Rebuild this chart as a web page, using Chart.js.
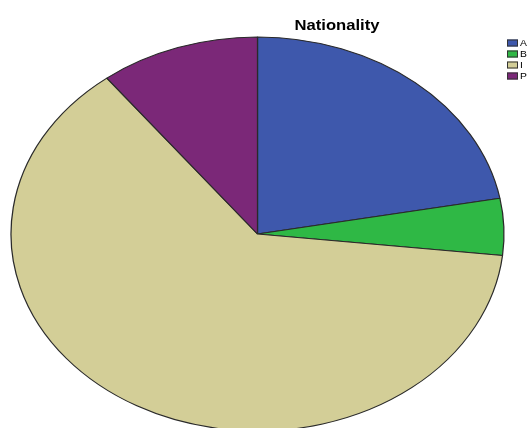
<!DOCTYPE html>
<html>
<head>
<meta charset="utf-8">
<script src="https://cdn.jsdelivr.net/npm/chart.js@4/dist/chart.umd.min.js"></script>
<style>
html,body{margin:0;padding:0;background:#fff;}
#wrap{width:530px;height:428px;position:relative;}
</style>
</head>
<body>
<div id="wrap"><canvas id="c" width="530" height="428"></canvas></div>
<script>
const categories = ['A', 'B', 'I', 'P'];
const counts = [19, 4, 54, 9];
const colors = ['#3e58ac', '#2fb845', '#d3ce97', '#7b2878'];
const chartTitle = 'Nationality';

// ellipse geometry (pie is stretched horizontally like the original)
const CX = 257.5, CY = 234, RX = 246.5, RY = 197;

const ellipsePlugin = {
  id: 'ellipse',
  beforeDatasetsDraw(chart) {
    const arc = chart.getDatasetMeta(0).data[0];
    const ctx = chart.ctx;
    ctx.save();
    ctx.translate(CX, CY);
    ctx.scale(RX / arc.outerRadius, RY / arc.outerRadius);
    ctx.translate(-arc.x, -arc.y);
  },
  afterDatasetsDraw(chart) {
    chart.ctx.restore();
  }
};

const textPlugin = {
  id: 'texts',
  afterDraw(chart) {
    const ctx = chart.ctx;
    ctx.save();
    // title
    ctx.font = 'bold 14px "Liberation Sans", Arial, sans-serif';
    ctx.fillStyle = '#000';
    ctx.textBaseline = 'middle';
    ctx.textAlign = 'center';
    const w = ctx.measureText(chartTitle).width;
    ctx.save();
    ctx.translate(337, 26);
    ctx.scale(85 / w, 1);
    ctx.fillText(chartTitle, 0, 0);
    ctx.restore();
    // legend
    ctx.font = '9px "Liberation Sans", Arial, sans-serif';
    ctx.textAlign = 'left';
    categories.forEach((cat, i) => {
      const y = 39.5 + i * 11;
      ctx.fillStyle = colors[i];
      ctx.fillRect(507, y, 11, 7);
      ctx.strokeStyle = '#333';
      ctx.lineWidth = 1;
      ctx.strokeRect(507.5, y + 0.5, 10, 6);
      ctx.fillStyle = '#000';
      ctx.save();
      ctx.translate(520, y + 4);
      ctx.scale(1.15, 1);
      ctx.fillText(cat, 0, 0);
      ctx.restore();
    });
    ctx.restore();
  }
};

new Chart(document.getElementById('c'), {
  type: 'pie',
  data: {
    labels: categories,
    datasets: [{
      data: counts,
      backgroundColor: colors,
      borderColor: '#2a2a2a',
      borderWidth: 1
    }]
  },
  options: {
    responsive: false,
    animation: false,
    layout: { padding: { top: 17, bottom: 17, left: 0, right: 0 } },
    plugins: {
      legend: { display: false },
      title: { display: false },
      tooltip: { enabled: false }
    }
  },
  plugins: [ellipsePlugin, textPlugin]
});
</script>
</body>
</html>
